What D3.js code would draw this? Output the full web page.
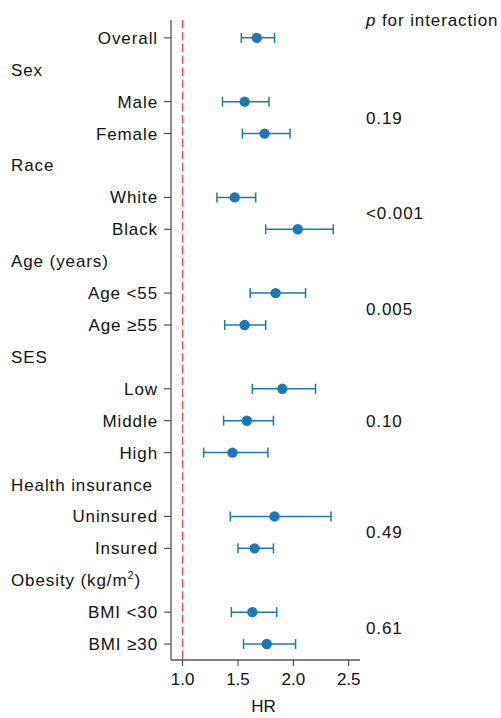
<!DOCTYPE html>
<meta charset="utf-8">
<script src="https://d3js.org/d3.v7.min.js"></script>
<style>
  body { margin: 0; background: #fff; }
  text { font-family: "Liberation Sans", Arial, sans-serif; fill: #111; font-size: 17px; }
  text.wide { letter-spacing: 0.9px; }
</style>
<body>
  <div id="my_dataviz"></div>
  <script>

    // Rows from top to bottom; headers have no estimate
    var rowLabels = ["Overall", "Sex", "Male", "Female", "Race", "White", "Black",
      "Age (years)", "Age <55", "Age \u226555", "SES", "Low", "Middle", "High",
      "Health insurance", "Uninsured", "Insured", "Obesity (kg/m2)", "BMI <30", "BMI \u226530"];
    var headers = ["Sex", "Race", "Age (years)", "SES", "Health insurance", "Obesity (kg/m2)"];
    var hr = [1.67, null, 1.56, 1.74, null, 1.47, 2.04, null, 1.84, 1.56, null, 1.90, 1.58, 1.45,
      null, 1.83, 1.65, null, 1.63, 1.76];
    var lo = [1.53, null, 1.36, 1.54, null, 1.31, 1.75, null, 1.61, 1.38, null, 1.63, 1.37, 1.19,
      null, 1.43, 1.50, null, 1.44, 1.55];
    var hi = [1.83, null, 1.78, 1.97, null, 1.66, 2.36, null, 2.11, 1.75, null, 2.20, 1.82, 1.77,
      null, 2.34, 1.82, null, 1.85, 2.02];
    var pValues = ["0.19", "<0.001", "0.005", "0.10", "0.49", "0.61"];
    var xTicks = [1.0, 1.5, 2.0, 2.5];

    var width = 501, height = 718;
    var blue = "#1f77b4";
    var shift = 1.5; // nudge text so its visual centre sits on the row

    var svg = d3.select("#my_dataviz")
      .append("svg")
        .attr("width", width)
        .attr("height", height);

    var data = rowLabels.map(function(l, i) {
      return {label: l, i: i, header: headers.indexOf(l) >= 0, hr: hr[i], lo: lo[i], hi: hi[i]};
    });

    // Scales
    var x = d3.scaleLinear().domain([0.895, 2.602]).range([171, 360]);
    var y = d3.scaleLinear().domain([-0.56, 19.5]).range([20, 660]);

    // Spines
    svg.append("line")
      .attr("x1", 171).attr("x2", 171).attr("y1", 20).attr("y2", 660)
      .attr("stroke", "#555").attr("stroke-width", 1.3);
    svg.append("line")
      .attr("x1", 171).attr("x2", 360).attr("y1", 660).attr("y2", 660)
      .attr("stroke", "#555").attr("stroke-width", 1.3);

    // X axis ticks and labels
    var xt = svg.selectAll("g.xt").data(xTicks).enter().append("g").attr("class", "xt");
    xt.append("line")
      .attr("x1", function(d) { return x(d); }).attr("x2", function(d) { return x(d); })
      .attr("y1", 660).attr("y2", 666)
      .attr("stroke", "#333").attr("stroke-width", 1);
    xt.append("text")
      .attr("x", function(d) { return x(d); })
      .attr("y", 681)
      .attr("text-anchor", "middle").attr("dominant-baseline", "middle")
      .text(function(d) { return d3.format(".1f")(d); });

    svg.append("text")
      .attr("x", (171 + 360) / 2 - 2).attr("y", 708)
      .attr("text-anchor", "middle").attr("dominant-baseline", "middle")
      .text("HR");

    // Reference line at HR = 1
    svg.append("line")
      .attr("x1", x(1)).attr("x2", x(1)).attr("y1", 20).attr("y2", 660)
      .attr("stroke", "#d62728").attr("stroke-opacity", 0.8)
      .attr("stroke-width", 1.5).attr("stroke-dasharray", "8.3,3.6");

    // Row labels
    var rows = data.filter(function(d) { return !d.header; });
    svg.selectAll("line.yt").data(rows).enter().append("line")
      .attr("class", "yt")
      .attr("x1", 164).attr("x2", 171)
      .attr("y1", function(d) { return y(d.i); }).attr("y2", function(d) { return y(d.i); })
      .attr("stroke", "#333").attr("stroke-width", 1);

    svg.selectAll("text.lab").data(rows).enter().append("text")
      .attr("class", "lab wide")
      .attr("x", 158).attr("y", function(d) { return y(d.i) + shift; })
      .attr("text-anchor", "end").attr("dominant-baseline", "middle")
      .text(function(d) { return d.label; });

    var heads = svg.selectAll("text.head").data(data.filter(function(d) { return d.header; }))
      .enter().append("text")
      .attr("class", "head wide")
      .attr("x", 11).attr("y", function(d) { return y(d.i) + shift; })
      .attr("dominant-baseline", "middle");
    heads.each(function(d) {
      var t = d3.select(this);
      if (d.label.indexOf("m2") >= 0) {
        t.append("tspan").text("Obesity (kg/m");
        t.append("tspan").attr("dy", -6).style("font-size", "11px").text("2");
        t.append("tspan").attr("dy", 6).text(")");
      } else {
        t.text(d.label);
      }
    });

    // Error bars
    var est = rows;
    svg.selectAll("line.ci").data(est).enter().append("line")
      .attr("class", "ci")
      .attr("x1", function(d) { return x(d.lo); }).attr("x2", function(d) { return x(d.hi); })
      .attr("y1", function(d) { return y(d.i); }).attr("y2", function(d) { return y(d.i); })
      .attr("stroke", blue).attr("stroke-width", 1.5);
    ["lo", "hi"].forEach(function(k) {
      svg.selectAll("line.cap" + k).data(est).enter().append("line")
        .attr("class", "cap" + k)
        .attr("x1", function(d) { return x(d[k]); }).attr("x2", function(d) { return x(d[k]); })
        .attr("y1", function(d) { return y(d.i) - 5; }).attr("y2", function(d) { return y(d.i) + 5; })
        .attr("stroke", blue).attr("stroke-width", 1.5);
    });
    svg.selectAll("circle.pt").data(est).enter().append("circle")
      .attr("class", "pt")
      .attr("cx", function(d) { return x(d.hr); })
      .attr("cy", function(d) { return y(d.i); })
      .attr("r", 5.2)
      .attr("fill", blue);

    // p for interaction, centred on each group's rows
    svg.append("text")
      .attr("class", "wide")
      .attr("x", 366).attr("y", 20 + shift)
      .attr("dominant-baseline", "middle")
      .call(function(t) {
        t.append("tspan").style("font-style", "italic").text("p");
        t.append("tspan").text(" for interaction");
      });

    headers.forEach(function(h, gi) {
      var start = rowLabels.indexOf(h) + 1;
      var end = gi + 1 < headers.length ? rowLabels.indexOf(headers[gi + 1]) : rowLabels.length;
      var mid = (start + end - 1) / 2;
      svg.append("text")
        .attr("class", "wide")
        .attr("x", 366).attr("y", y(mid) + shift)
        .attr("dominant-baseline", "middle")
        .text(pValues[gi]);
    });

  </script>
</body>
